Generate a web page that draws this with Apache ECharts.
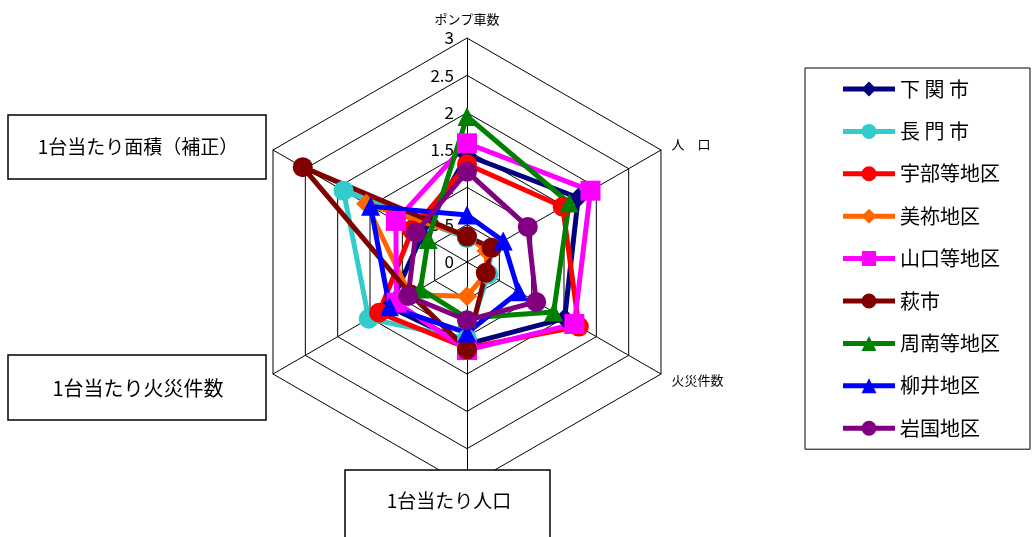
<!DOCTYPE html>
<html>
<head>
<meta charset="utf-8">
<script src="https://cdn.jsdelivr.net/npm/echarts@6/dist/echarts.min.js"></script>
<style>
html,body{margin:0;padding:0;background:#fff;}
#chart{width:1032px;height:537px;}
</style>
</head>
<body>
<div id="chart"></div>
<script>
// Indicator order as ECharts places them (top, then counter-clockwise)
const indicatorNames = ['ポンプ車数', '1台当たり面積（補正）', '1台当たり火災件数', '1台当たり人口', '火災件数', '人　口'];
const boxedNames = ['1台当たり面積（補正）', '1台当たり火災件数', '1台当たり人口'];
const axisMax = 3;
const tickLabels = ['0', '0.5', '1', '1.5', '2', '2.5', '3'];

const seriesNames = ['下 関 市', '長 門 市', '宇部等地区', '美祢地区', '山口等地区', '萩市', '周南等地区', '柳井地区', '岩国地区'];
const shimonoseki = [1.43, 0.70, 1.20, 1.10, 1.51, 1.72];
const nagato      = [0.32, 1.91, 1.52, 1.03, 0.33, 0.38];
const ube         = [1.31, 0.85, 1.36, 1.15, 1.73, 1.48];
const mine        = [0.35, 1.56, 0.88, 0.46, 0.30, 0.30];
const yamaguchi   = [1.59, 1.10, 1.09, 1.18, 1.66, 1.91];
const hagi        = [0.34, 2.54, 0.87, 1.17, 0.29, 0.38];
const shunan      = [1.95, 0.60, 0.72, 0.75, 1.34, 1.58];
const yanai       = [0.63, 1.49, 1.20, 0.95, 0.80, 0.56];
const iwakuni     = [1.21, 0.79, 0.91, 0.78, 1.07, 0.94];
const seriesValues = [shimonoseki, nagato, ube, mine, yamaguchi, hagi, shunan, yanai, iwakuni];

const colors = ['#000080', '#33CCCC', '#FF0000', '#FF6600', '#FF00FF', '#800000', '#008000', '#0000FF', '#800080'];
const symbols = ['diamond', 'circle', 'circle', 'diamond', 'rect', 'circle', 'triangle', 'triangle', 'circle'];

const FONT = '"Noto Sans CJK JP", "Noto Sans", sans-serif';

const iconPaths = {
  circle: 'path://M0,5 L52,5 L52,10 L0,10 Z M33.5,7.5 A7.5,7.5 0 1 1 18.5,7.5 A7.5,7.5 0 1 1 33.5,7.5 Z',
  diamond: 'path://M0,5 L52,5 L52,10 L0,10 Z M26,0 L33.5,7.5 L26,15 L18.5,7.5 Z',
  rect: 'path://M0,5 L52,5 L52,10 L0,10 Z M19,0 L33,0 L33,15 L19,15 Z',
  triangle: 'path://M0,5 L52,5 L52,10 L0,10 Z M26,0 L33.5,15 L18.5,15 Z'
};

const labelCfg = { show: true, fontSize: 17, color: '#000', margin: 13, fontFamily: FONT };

const chart = echarts.init(document.getElementById('chart'), null, { renderer: 'canvas' });

const option = {
  animation: false,
  backgroundColor: '#fff',
  radar: {
    center: [467, 262],
    radius: 224,
    startAngle: 90,
    shape: 'polygon',
    splitNumber: 6,
    nameGap: 12,
    axisName: {
      color: '#000',
      fontSize: 13,
      fontFamily: FONT,
      formatter: function (name) { return boxedNames.indexOf(name) >= 0 ? '' : name; }
    },
    axisLine: { lineStyle: { color: '#000', width: 1 } },
    splitLine: { lineStyle: { color: '#000', width: 1 } },
    splitArea: { show: false },
    axisTick: { show: false },
    axisLabel: { show: false },
    indicator: indicatorNames.map(function (n, i) {
      const ind = { name: n, min: 0, max: axisMax };
      if (i === 0) ind.axisLabel = labelCfg;
      return ind;
    })
  },
  legend: {
    orient: 'vertical',
    left: 805,
    top: 68,
    itemWidth: 52,
    itemHeight: 15,
    itemGap: 22.4,
    padding: [11, 30, 11, 38],
    borderColor: '#000',
    borderWidth: 1,
    selectedMode: false,
    itemStyle: { borderWidth: 0 },
    textStyle: { fontSize: 20, lineHeight: 20, color: '#000', fontFamily: FONT },
    data: seriesNames.map(function (n, i) { return { name: n, icon: iconPaths[symbols[i]] }; })
  },
  graphic: [
    { type: 'rect', z: 100, shape: { x: 8, y: 115, width: 258, height: 64 }, style: { fill: '#fff', stroke: '#000', lineWidth: 1.5 } },
    { type: 'text', z: 101, style: { text: boxedNames[0], x: 138, y: 147, fill: '#000', font: '19px ' + FONT, align: 'center', verticalAlign: 'middle', textAlign: 'center', textVerticalAlign: 'middle' } },
    { type: 'rect', z: 100, shape: { x: 8, y: 355, width: 258, height: 65 }, style: { fill: '#fff', stroke: '#000', lineWidth: 1.5 } },
    { type: 'text', z: 101, style: { text: boxedNames[1], x: 138, y: 388, fill: '#000', font: '20px ' + FONT, align: 'center', verticalAlign: 'middle', textAlign: 'center', textVerticalAlign: 'middle' } },
    { type: 'rect', z: 100, shape: { x: 345, y: 470, width: 205, height: 90 }, style: { fill: '#fff', stroke: '#000', lineWidth: 1.5 } },
    { type: 'text', z: 101, style: { text: boxedNames[2], x: 449, y: 501, fill: '#000', font: '19px ' + FONT, align: 'center', verticalAlign: 'middle', textAlign: 'center', textVerticalAlign: 'middle' } }
  ],
  series: seriesNames.map(function (n, i) {
    return {
      type: 'radar',
      name: n,
      symbol: symbols[i],
      symbolSize: symbols[i] === 'triangle' ? 19 : 20,
      lineStyle: { color: colors[i], width: 5 },
      itemStyle: { color: colors[i], borderWidth: 0 },
      emphasis: { disabled: true },
      data: [{ name: n, value: seriesValues[i] }]
    };
  })
};

chart.setOption(option);
</script>
</body>
</html>
